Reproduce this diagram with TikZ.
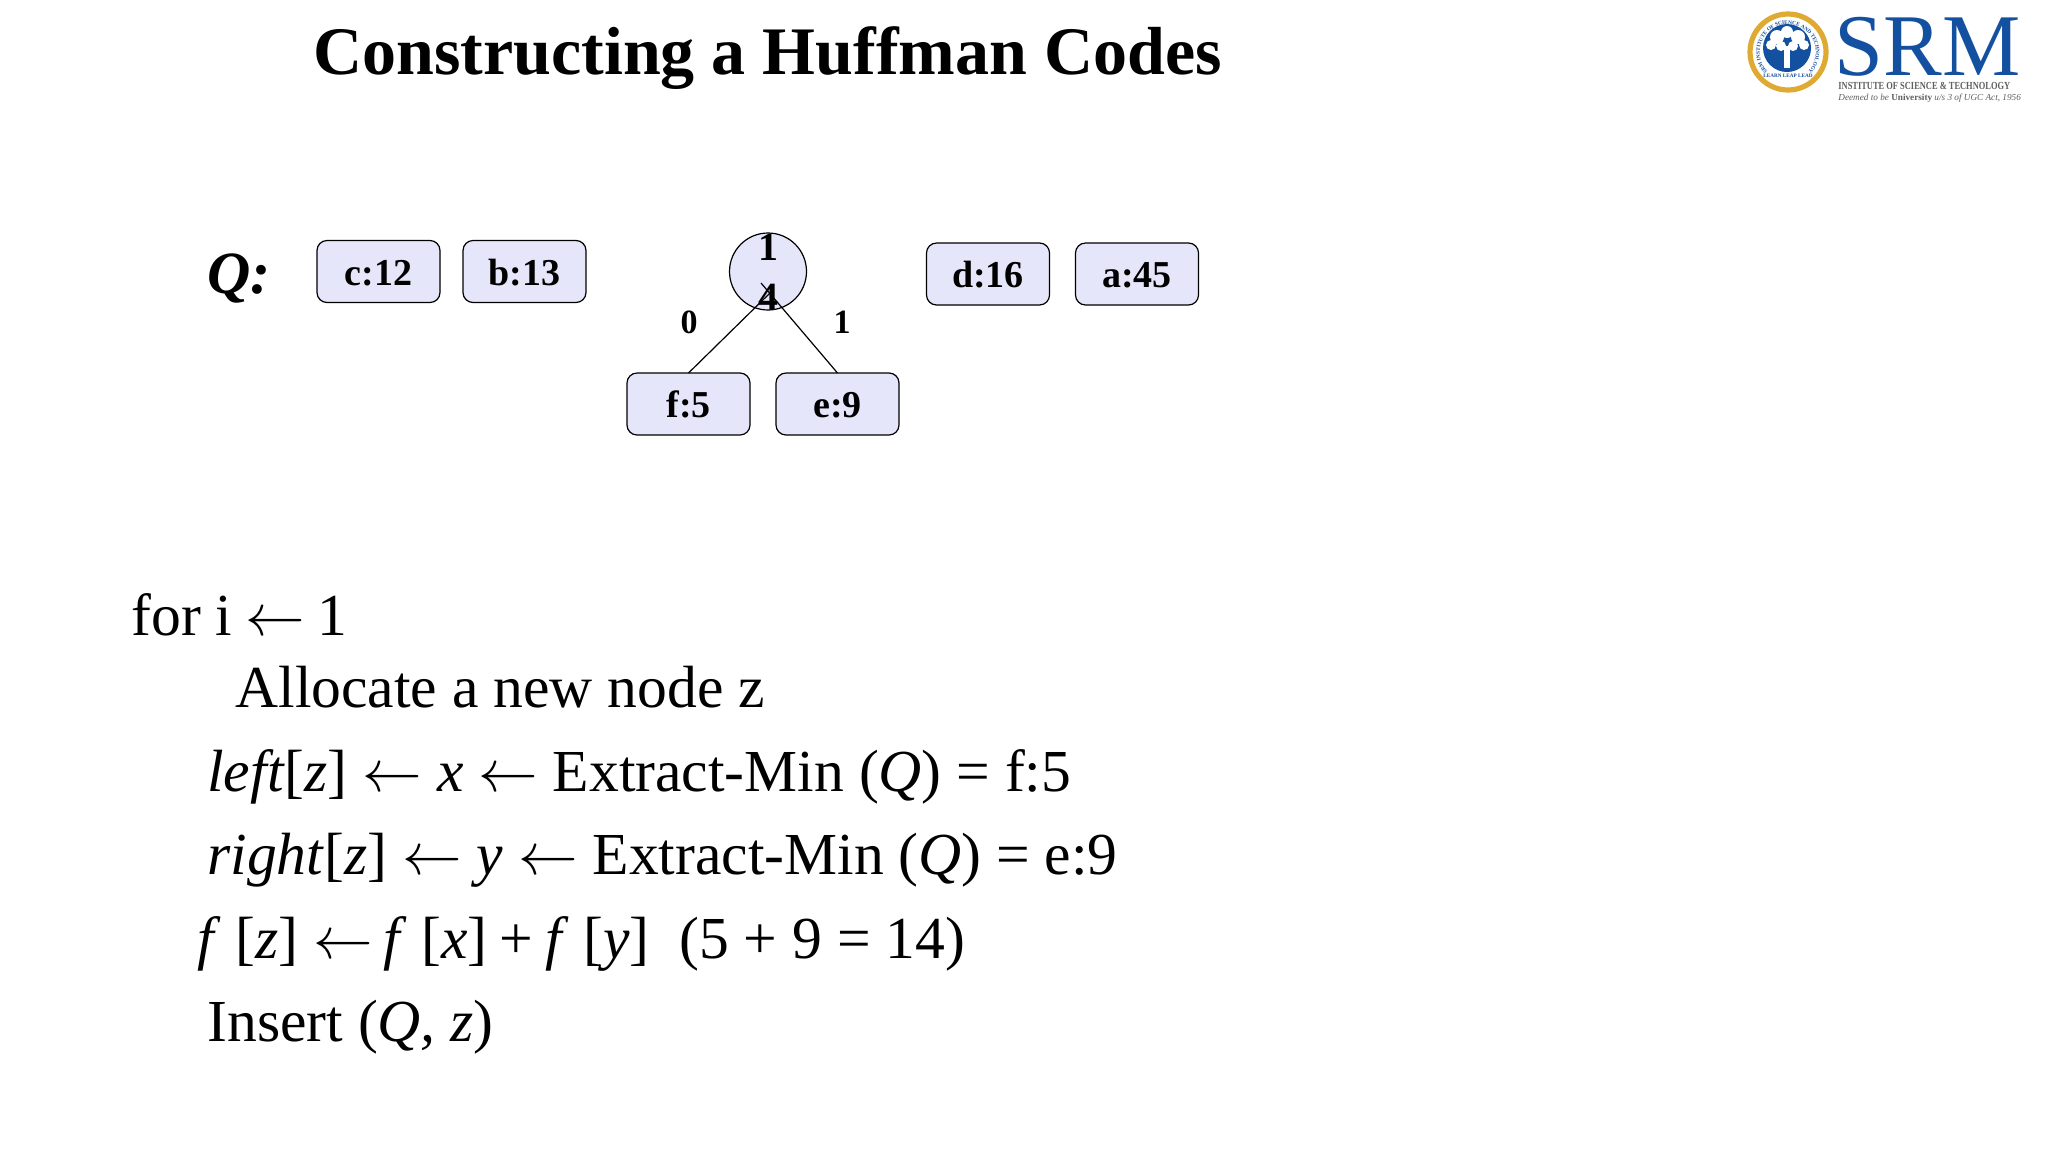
\documentclass[tikz,border=0pt]{standalone}
\usepackage{fix-cm}
\usepackage{graphicx}
\usepackage{fontspec}
\setmainfont{Liberation Serif}
\usepackage{xcolor}
\usetikzlibrary{positioning, decorations.text}
\definecolor{boxfill}{RGB}{230, 230, 250}
\definecolor{srmblue}{RGB}{20, 80, 160}
\definecolor{srmgold}{RGB}{222, 170, 50}
\definecolor{srmgrey}{RGB}{95, 95, 95}
\newcommand{\larr}{$\leftarrow$}

\begin{document}
\begin{tikzpicture}[
    x=0.5pt, y=-0.5pt,
    node distance=11.5pt,
    qbox/.style={rectangle, rounded corners=5pt, draw=black, fill=boxfill, minimum width=61.5pt, minimum height=31pt, inner sep=0pt, outer sep=0pt, text height=13.5pt, text depth=0pt, font=\fontsize{19}{22}\selectfont\bfseries, line width=0.6pt},
    qcircle/.style={circle, draw=black, fill=boxfill, minimum size=38.5pt, inner sep=0pt, outer sep=0pt, line width=0.6pt},
    edgelabel/.style={font=\fontsize{17}{20}\selectfont\bfseries, inner sep=0pt},
    codeline/.style={anchor=base west, inner sep=0pt, font=\fontsize{29.8}{34}\selectfont},
    treeline/.style={line width=0.6pt, draw=black}
  ]
  \useasboundingbox[fill=white] (0,0) rectangle (2048,1152);

  % Title and queue label
  \node[anchor=base west, inner sep=0pt, font=\fontsize{34}{40}\selectfont\bfseries] (title) at (313,74) {Constructing a Huffman Codes};
  \node[anchor=base west, inner sep=0pt, font=\fontsize{30}{34}\selectfont\bfseries\itshape] (qlabel) at (207,293) {Q:};

  % Queue nodes
  \node[qbox] (c12) at (378.5,271.5) {c:12};
  \node[qbox, right=of c12] (b13) {b:13};
  \node[qbox] (d16) at (988,274) {d:16};
  \node[qbox, right=13pt of d16] (a45) {a:45};

  % Merged tree
  \node[qcircle] (z14) at (768,271.5) {};
  \node[qbox] (f5) at (688.5,404) {f:5};
  \node[qbox, right=13pt of f5] (e9) {e:9};
  \coordinate (zleft) at (771,292);
  \coordinate (zright) at (761,283);
  \draw[treeline] (f5.north) -- (zleft);
  \draw[treeline] (e9.north) -- (zright);
  \node[align=center, inner sep=0pt, font=\fontsize{20}{25}\selectfont\bfseries] (z14text) at (768,272) {1\\4};
  \node[edgelabel] (zero) at (689,322) {0};
  \node[edgelabel] (one) at (842,322) {1};

  % Pseudocode
  \node[codeline] (forline) at (131,635) {for i\kern-1pt\ \larr\kern-1pt\ 1};
  \node[codeline] (allocline) at (235,707) {Allocate a new node z};
  \node[codeline] (leftline) at (207,791) {\textit{left}[\textit{z}] \larr\ \textit{x} \larr\ Extract-Min (\textit{Q}) = f:5};
  \node[codeline] (rightline) at (207,874) {\textit{right}[\textit{z}] \larr\ \textit{y} \larr\ Extract-Min (\textit{Q}) = e:9};
  \node[codeline] (sumline) at (197,958) {\textit{f} [\textit{z}] \larr\,\textit{f} [\textit{x}]\kern6pt+\kern6pt\textit{f} [\textit{y}]\ \ (5 + 9 = 14)};
  \node[codeline] (insertline) at (207,1041) {Insert (\textit{Q, z})};

  % Logo
  \node[circle, draw=srmgold, line width=2.6pt, fill=white, minimum size=38pt, inner sep=0pt] (seal) at (1788,52) {};
  \node[circle, fill=srmblue, minimum size=24pt, inner sep=0pt] (sealdisc) at (1787,48) {};
  \fill[white] (1787,32) circle (6) (1777,37) circle (7) (1798,37) circle (7) (1771,45) circle (5) (1804,45) circle (5) (1781,46) circle (5) (1793,46) circle (5);
  \fill[white] (1784,46) rectangle (1790,68);
  \path[decoration={text along path, text align=center, text={|\fontsize{2.7}{3}\selectfont\bfseries\color{srmblue}|SRM INSTITUTE OF SCIENCE AND TECHNOLOGY}}, decorate] (1768,72) arc[start angle=135, end angle=405, radius=28];
  \node[inner sep=0pt, font=\fontsize{2.6}{3}\selectfont\bfseries, text=srmblue] (sealmotto) at (1788,76) {LEARN LEAP LEAD};
  \node[anchor=base west, inner sep=0pt, font=\fontsize{44}{46}\selectfont, text=srmblue] (srm) at (1834,75) {SRM};
  \node[anchor=base west, inner sep=0pt, font=\fontsize{5.4}{7}\selectfont\bfseries, text=srmgrey] (srminst) at (1838,89) {\scalebox{0.78}[1]{INSTITUTE OF SCIENCE \& TECHNOLOGY}};
  \node[anchor=base west, inner sep=0pt, font=\fontsize{4.6}{6}\selectfont\itshape, text=srmgrey] (srmdeemed) at (1838,100) {Deemed to be \textbf{\upshape University} u/s 3 of UGC Act, 1956};
\end{tikzpicture}
\end{document}
